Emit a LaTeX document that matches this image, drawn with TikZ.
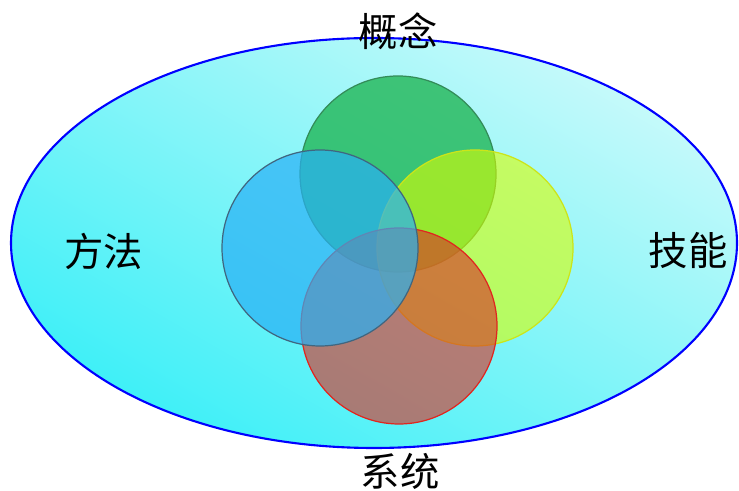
\documentclass[tikz,border=0pt]{standalone}
\usepackage{fontspec}
\newfontfamily\cjk{Noto Sans CJK SC}
\usepackage{tkz-euclide}
\definecolor{skylite}{rgb}{0.78,0.98,0.98}
\definecolor{skydeep}{rgb}{0.24,0.94,0.97}
\definecolor{greenfill}{rgb}{0.10,0.70,0.30}
\definecolor{greenline}{rgb}{0.20,0.55,0.35}
\definecolor{yellowfill}{rgb}{0.85,1.00,0.00}
\definecolor{yellowline}{rgb}{0.80,0.90,0.10}
\definecolor{redfill}{rgb}{0.85,0.20,0.15}
\definecolor{redline}{rgb}{0.88,0.15,0.12}
\definecolor{bluefill}{rgb}{0.16,0.69,0.96}
\definecolor{blueline}{rgb}{0.25,0.40,0.50}

\begin{document}
\begin{tikzpicture}[font=\cjk\fontsize{11.2}{13}\selectfont]
    \useasboundingbox (0,0) rectangle (7.39,4.91);
    \tkzDefPoints{3.74/2.48/O,3.98/3.17/G,4.75/2.43/Y,3.99/1.65/R,3.20/2.43/B}
    \tkzDefPoints{4.96/3.17/G_1,5.73/2.43/Y_1,4.97/1.65/R_1,4.18/2.43/B_1}
    \shade[draw=blue,line width=0.6pt,top color=skylite,bottom color=skydeep,shading angle=-30]
        (O) ellipse [x radius=3.63,y radius=2.05];
    \foreach \c/\f/\l/\o in {G/greenfill/greenline/0.75,Y/yellowfill/yellowline/0.6,
                             R/redfill/redline/0.62,B/bluefill/blueline/0.7}{
        \tkzFillCircle[\f,opacity=\o](\c,\c_1)
        \tkzDrawCircle[\l,line width=0.35pt](\c,\c_1)
    }
    \node (gainian) at (3.98,4.60) {概念};
    \node (fangfa) at (1.04,2.40) {方法};
    \node (jineng) at (6.88,2.40) {技能};
    \node (xitong) at (4.00,0.20) {系统};
\end{tikzpicture}
\end{document}
